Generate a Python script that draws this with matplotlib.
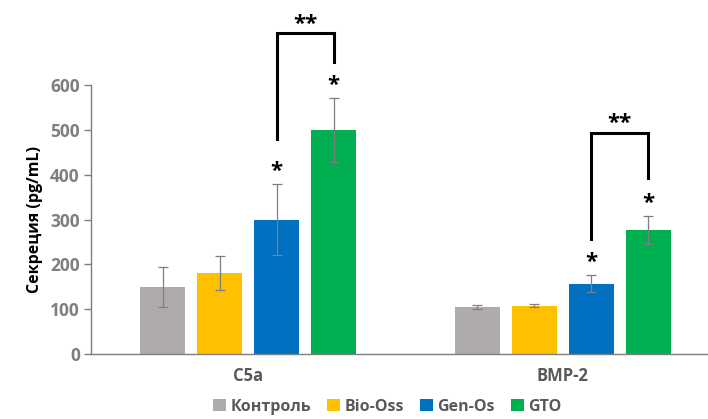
import matplotlib
matplotlib.use('Agg')
import matplotlib.pyplot as plt
import numpy as np

# --- Data ---
categories = ['C5a', 'BMP-2']
groups = ['Контроль', 'Bio-Oss', 'Gen-Os', 'GTO']
colors = ['#AFABAB', '#FFC000', '#0070C0', '#00B050']

means = {
    'Контроль': [150, 105],
    'Bio-Oss': [180, 108],
    'Gen-Os': [300, 157],
    'GTO': [500, 277],
}
errors = {
    'Контроль': [45, 5],
    'Bio-Oss': [38, 3],
    'Gen-Os': [80, 19],
    'GTO': [71, 31],
}
# groups marked with a single star (vs control)
star_groups = ['Gen-Os', 'GTO']

plt.rcParams['font.family'] = ['Open Sans', 'DejaVu Sans']

fig = plt.figure(figsize=(7.08, 4.19), dpi=100)
ax = fig.add_axes([0.1285, 0.155, 0.8715, 0.642])

x = np.arange(len(categories))
width = 0.143
step = 0.1815
offsets = (np.arange(len(groups)) - 1.5) * step

for i, g in enumerate(groups):
    ax.bar(x + offsets[i], means[g], width, color=colors[i], label=g, zorder=2)
    ax.errorbar(x + offsets[i], means[g], yerr=errors[g], fmt='none',
                ecolor='#7F7F7F', elinewidth=0.9, capsize=3.5, capthick=0.9, zorder=3)

# single stars above Gen-Os and GTO
for g in star_groups:
    i = groups.index(g)
    for j in range(len(categories)):
        top = means[g][j] + errors[g][j]
        ax.text(x[j] + offsets[i], top + 16, '*', ha='center', va='baseline',
                fontsize=16, fontweight='bold', clip_on=False)

# brackets Gen-Os vs GTO ("**")
ig, it = groups.index('Gen-Os'), groups.index('GTO')
for j in range(len(categories)):
    xl, xr = x[j] + offsets[ig], x[j] + offsets[it]
    yl = means['Gen-Os'][j] + errors['Gen-Os'][j] + (100 if j == 0 else 80)
    yr = means['GTO'][j] + errors['GTO'][j] + (80 if j == 0 else 85)
    ytop = max(yl, yr) + (64 if j == 0 else 101)
    ax.plot([xl, xl, xr, xr], [yl, ytop, ytop, yr], color='black', lw=2.2,
            clip_on=False, solid_joinstyle='miter', zorder=4)
    ax.text((xl + xr) / 2, ytop + 8, '**', ha='center', va='baseline',
            fontsize=16, fontweight='bold', clip_on=False)

ax.set_ylim(0, 600)
ax.set_xlim(-0.5, 1.462)
ax.set_yticks(range(0, 601, 100))
ax.set_xticks(x)
ax.set_xticklabels(categories, fontsize=12, fontweight='bold', color='#595959')
ax.tick_params(axis='x', length=0, pad=9)
ax.tick_params(axis='y', length=5, width=1, color='#7F7F7F', labelsize=12.5,
               labelcolor='#7F7F7F', pad=3)
for lbl in ax.get_yticklabels():
    lbl.set_fontweight('bold')

for side in ['top', 'right']:
    ax.spines[side].set_visible(False)
ax.spines['left'].set_color('#7F7F7F')
ax.spines['bottom'].set_color('#7F7F7F')
ax.spines['left'].set_linewidth(1)
ax.spines['bottom'].set_linewidth(1)

ax.set_ylabel('Секреция (pg/mL)', fontsize=11.5, fontweight='bold', color='black', labelpad=5)

fig.legend(loc='center', bbox_to_anchor=(0.547, 0.029), ncol=4, frameon=False,
           handlelength=0.8, handleheight=0.8, handletextpad=0.3, columnspacing=1.0,
           prop={'size': 11.5, 'weight': 'bold'}, labelcolor='#595959')

fig.savefig('out.png', dpi=100)
